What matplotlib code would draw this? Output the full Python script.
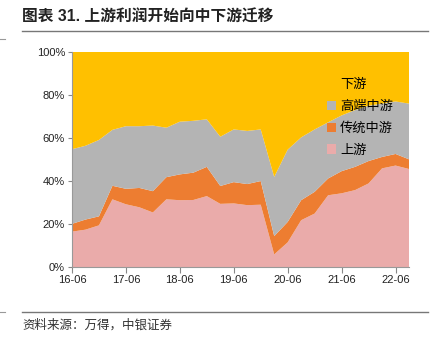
import matplotlib.pyplot as plt
import numpy as np
from matplotlib.patches import Patch
from matplotlib.lines import Line2D

plt.rcParams['font.family'] = ['Liberation Sans', 'Noto Sans CJK SC', 'DejaVu Sans']

# quarterly, 16-06 .. 22-09
quarters = ['16-06', '16-09', '16-12', '17-03', '17-06', '17-09', '17-12', '18-03',
            '18-06', '18-09', '18-12', '19-03', '19-06', '19-09', '19-12', '20-03',
            '20-06', '20-09', '20-12', '21-03', '21-06', '21-09', '21-12', '22-03',
            '22-06', '22-09']

# profit share (%) by segment
upstream = [16.5, 17.4, 19.4, 31.5, 29.2, 27.8, 25.4, 31.5, 31.1, 31.2, 33.0, 29.4, 29.6,
            28.8, 29.0, 5.9, 11.5, 21.8, 24.9, 33.4, 34.3, 35.8, 38.9, 45.9, 47.2, 45.6]
mid_traditional = [3.6, 4.7, 4.2, 6.3, 7.2, 9.0, 9.9, 10.3, 12.0, 12.7, 13.6, 8.3, 9.9,
                   9.8, 11.0, 8.5, 9.5, 9.3, 10.1, 7.8, 10.3, 10.8, 10.4, 5.3, 5.4, 4.5]
mid_high_end = [34.7, 34.3, 35.5, 26.0, 29.1, 28.7, 30.5, 23.0, 24.5, 24.1, 22.1, 22.9,
                24.5, 24.7, 24.0, 27.5, 33.6, 29.2, 29.0, 26.1, 25.9, 26.4, 25.7, 24.8,
                24.4, 25.9]
downstream = [round(100 - a - b - c, 1) for a, b, c in zip(upstream, mid_traditional, mid_high_end)]

labels = ['上游', '传统中游', '高端中游', '下游']
colors = ['#EAABAA', '#ED7D31', '#B4B4B4', '#FFC000']

x = np.arange(len(quarters))

fig = plt.figure(figsize=(4.31, 3.42), dpi=100)
ax = fig.add_axes([0.167, 0.219, 0.782, 0.629])

ax.stackplot(x, upstream, mid_traditional, mid_high_end, downstream,
             colors=colors, linewidth=0)

ax.set_xlim(0, len(quarters) - 1)
ax.set_ylim(0, 100)
ax.set_yticks(np.arange(0, 101, 20))
ax.set_yticklabels([f'{v}%' for v in range(0, 101, 20)])
ax.set_xticks(x[::4])
ax.set_xticklabels(quarters[::4])
ax.tick_params(labelsize=8, colors='#333333', length=4, width=0.8, direction='out', pad=2)
ax.tick_params(axis='x', colors='#888888', labelcolor='#222222')
ax.tick_params(axis='y', colors='#888888', labelcolor='#222222', length=3)
for s in ['top', 'right']:
    ax.spines[s].set_visible(False)
for s in ['left', 'bottom']:
    ax.spines[s].set_color('#999999')
    ax.spines[s].set_linewidth(0.8)

handles = [Patch(facecolor=c, edgecolor='none') for c in colors][::-1]
leg = ax.legend(handles, labels[::-1], loc='upper left', bbox_to_anchor=(0.74, 0.90),
                frameon=False, fontsize=9.5, handlelength=0.7, handleheight=0.7,
                handletextpad=0.3, labelspacing=0.72, borderaxespad=0)

# title and rules
fig.text(0.051, 0.95, '图表 31. 上游利润开始向中下游迁移', fontsize=11.3, fontweight='bold',
         va='center', ha='left', color='#222222')
fig.add_artist(Line2D([0.051, 0.993], [0.909, 0.909], color='#777777', linewidth=1))
fig.add_artist(Line2D([0.0, 0.012], [0.886, 0.886], color='#999999', linewidth=0.8))
fig.add_artist(Line2D([0.051, 0.993], [0.089, 0.089], color='#777777', linewidth=1))
fig.add_artist(Line2D([0.0, 0.012], [0.089, 0.089], color='#999999', linewidth=0.8))
fig.text(0.051, 0.048, '资料来源：万得，中银证券', fontsize=9, style='italic',
         va='center', ha='left', color='#333333')

fig.savefig('out.png', dpi=100)
